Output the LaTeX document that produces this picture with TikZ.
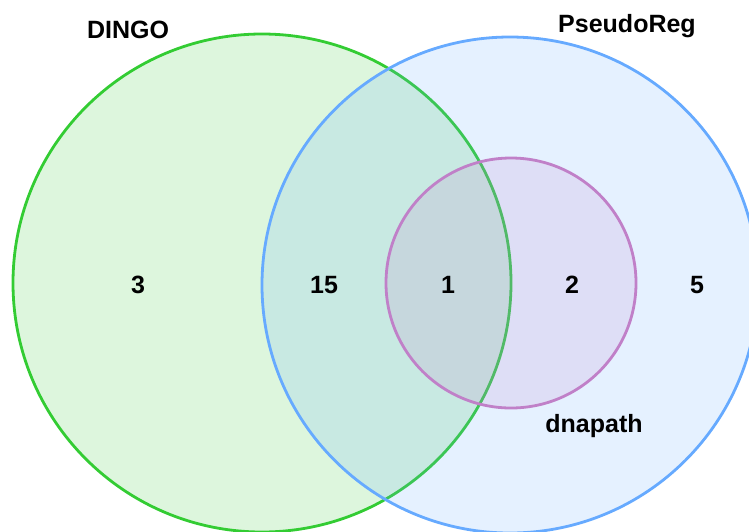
\documentclass[tikz,border=0pt]{standalone}
\usepackage{fontspec}
\setmainfont{Liberation Sans}
\begin{document}
\begin{tikzpicture}[x=1pt,y=-1pt,
  setcircle/.style={line width=2.8pt, fill opacity=0.17},
  lbl/.style={font=\fontsize{25}{28}\selectfont\bfseries, inner sep=0pt, anchor=base, text=black}]
\useasboundingbox (0,0) rectangle (749,531);
\definecolor{vgreen}{HTML}{33CC33}
\definecolor{vblue}{HTML}{66AAFF}
\definecolor{vpink}{HTML}{C080C8}
\begin{scope}
\clip (0,0) rectangle (749,531);
\draw[setcircle, draw=vgreen, fill=vgreen] (262,283) circle[radius=249];
\draw[setcircle, draw=vblue, fill=vblue] (510,285) circle[radius=248];
\draw[setcircle, draw=vpink, fill=vpink] (511,283) circle[radius=125];
\end{scope}
\node[lbl] (dingo) at (128,38) {DINGO};
\node[lbl] (pseudo) at (627,32) {PseudoReg};
\node[lbl] (dnapath) at (594,432) {dnapath};
\node[lbl] (n3) at (138,293) {3};
\node[lbl] (n15) at (324,293) {15};
\node[lbl] (n1) at (448,293) {1};
\node[lbl] (n2) at (572,293) {2};
\node[lbl] (n5) at (697,293) {5};
\end{tikzpicture}
\end{document}
